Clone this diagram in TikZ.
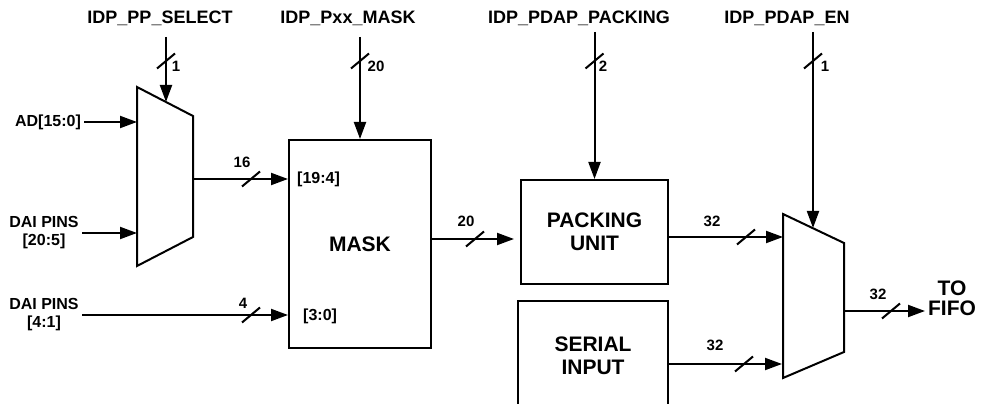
\documentclass[tikz,border=0pt]{standalone}
\usepackage{fontspec}
\setmainfont{Liberation Sans}
\usetikzlibrary{arrows.meta,positioning,calc}
\tikzset{
  blk/.style 2 args={
    rectangle, draw, line width=2pt, inner sep=0pt,
    minimum width=#1, minimum height=#2,
    align=center, font=\fontsize{21}{23}\selectfont\bfseries
  },
  sig/.style={font=\fontsize{18}{21}\selectfont\bfseries, inner sep=0pt},
  pin/.style={font=\fontsize{16}{18}\selectfont\bfseries, align=center},
  bw/.style={font=\fontsize{15}{18}\selectfont\bfseries, inner sep=0pt},
  port/.style={font=\fontsize{16}{18}\selectfont\bfseries, inner sep=0pt, anchor=west},
  wire/.style={line width=2pt, line join=miter},
  arr/.style={-{Triangle[length=17pt,width=12pt]}, line width=2pt},
  busmark/.pic={\draw[line width=2pt] (-9pt,-7.5pt) -- (9pt,7.5pt);}
}

\begin{document}
\begin{tikzpicture}[x=1pt,y=1pt]
  \useasboundingbox (0,0) rectangle (983,404);

  \node[sig] (selname)  at (160,386) {IDP\_PP\_SELECT};
  \node[sig] (maskname) at (348,386) {IDP\_Pxx\_MASK};
  \node[sig] (packname) at (579,386) {IDP\_PDAP\_PACKING};
  \node[sig] (enname)   at (787,386) {IDP\_PDAP\_EN};

  \node[blk={142pt}{208pt}] (mask) at (360,160) {MASK};
  \node[blk={147pt}{104pt}] (pack) at (594.5,172) {PACKING\\UNIT};
  \node[blk={150pt}{110pt}] (serial) at (593,48) {SERIAL\\INPUT};

  \coordinate (ma) at (137,317);
  \coordinate (mb) at (193,288);
  \coordinate (mc) at (193,167);
  \coordinate (md) at (137,138);
  \draw[wire] (ma) -- (mb) -- (mc) -- (md) -- cycle;

  \coordinate (na) at (783,190);
  \coordinate (nb) at (844,161);
  \coordinate (nc) at (844,52);
  \coordinate (nd) at (783,26);
  \draw[wire] (na) -- (nb) -- (nc) -- (nd) -- cycle;

  \node[pin] (ad)   at (48,282) {AD[15:0]};
  \node[pin] (dai2) at (44,171) {DAI PINS\\{[20:5]}};
  \node[pin] (dai1) at (44,89)  {DAI PINS\\{[4:1]}};
  \node[pin, font=\fontsize{21}{20}\selectfont\bfseries] (fifo) at (952,106) {TO\\FIFO};

  \node[port] (hi) at (297,225) {[19:4]};
  \node[port] (lo) at (303,88)  {[3:0]};

  \coordinate (selin)  at (166,367);
  \coordinate (seltip) at (166,302);
  \coordinate (maskin) at (360,367);
  \coordinate (packin) at (594.5,372);
  \coordinate (enin)   at (813,372);
  \coordinate (entip)  at (813,176);
  \coordinate (mux1a)  at (137,282);
  \coordinate (mux1b)  at (137,171);
  \coordinate (mux1o)  at (193,225);
  \coordinate (mux2a)  at (783,167);
  \coordinate (mux2b)  at (782,40);
  \coordinate (mux2o)  at (844,93);
  \coordinate (fifoin) at (925,93);

  \draw[arr] (selin) -- (seltip);
  \draw[arr] (maskin) -- (mask.north);
  \draw[arr] (packin) -- (pack.north);
  \draw[arr] (enin) -- (entip);
  \draw[arr] (ad.east) -- (mux1a);
  \draw[arr] (dai2.east |- mux1b) -- (mux1b);
  \draw[arr] (dai1.east) -- (dai1.east -| mask.west);
  \draw[arr] (mux1o) -- (mux1o -| mask.west);
  \draw[arr, shorten >=6pt] (mask.east |- 0,165) -- (pack.west |- 0,165);
  \draw[arr] (pack.east |- mux2a) -- (mux2a);
  \draw[arr] (serial.east |- mux2b) -- (mux2b);
  \draw[arr] (mux2o) -- (fifoin);

  \pic at (166,343) {busmark};
  \pic at (360,343) {busmark};
  \pic at (594.5,343) {busmark};
  \pic at (813,343) {busmark};
  \pic at (251,225) {busmark};
  \pic at (251,89)  {busmark};
  \pic at (475,165) {busmark};
  \pic at (746,167) {busmark};
  \pic at (744,40)  {busmark};
  \pic at (891,93)  {busmark};

  \node[bw] (wsel)  at (176,338) {1};
  \node[bw] (wmask) at (376,338) {20};
  \node[bw] (wpack) at (603,338) {2};
  \node[bw] (wen)   at (825,338) {1};
  \node[bw] (w16)   at (242,242) {16};
  \node[bw] (w4)    at (243,101) {4};
  \node[bw] (w20)   at (466,183) {20};
  \node[bw] (w32a)  at (712,183) {32};
  \node[bw] (w32b)  at (715,59)  {32};
  \node[bw] (w32c)  at (878,110) {32};
\end{tikzpicture}
\end{document}
